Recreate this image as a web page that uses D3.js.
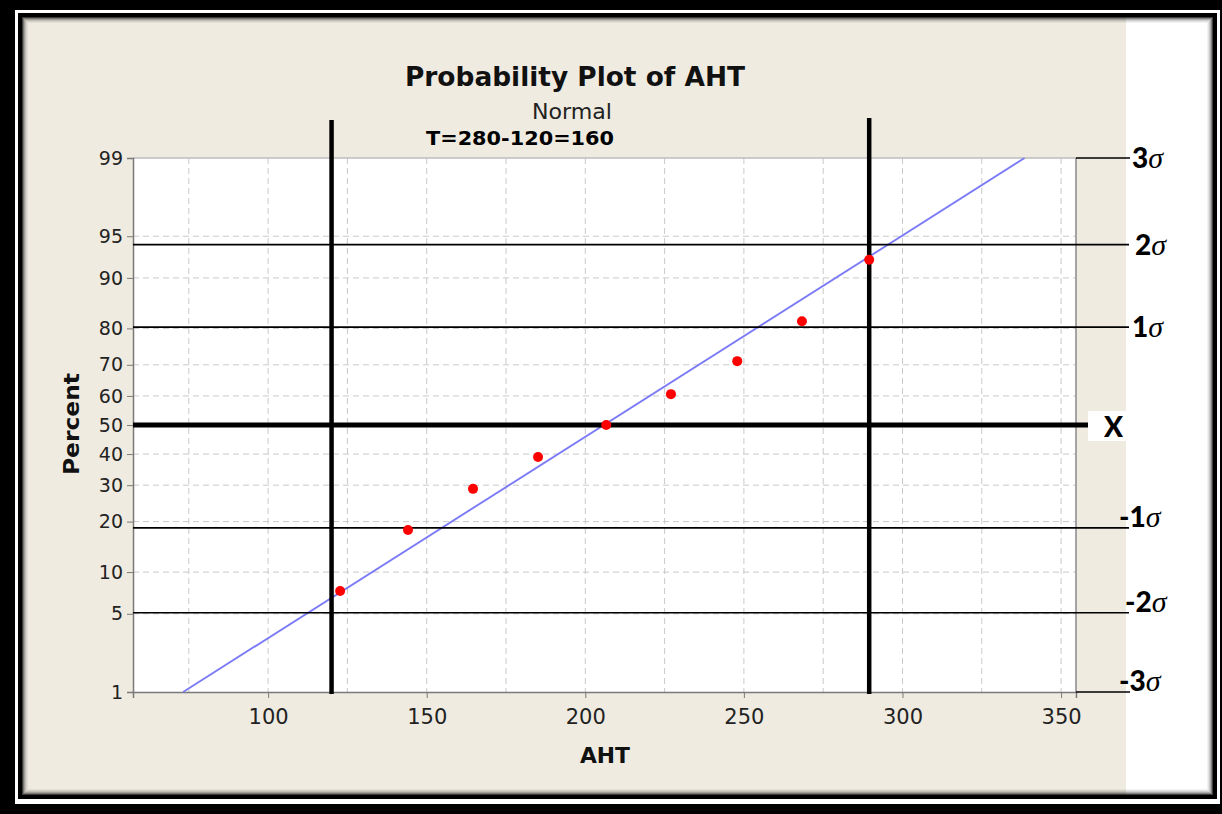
<!DOCTYPE html>
<html>
<head>
<meta charset="utf-8">
<script src="https://cdn.jsdelivr.net/npm/d3@7"></script>
<style>
  html, body { margin: 0; padding: 0; background: #000; }
  svg { display: block; }
</style>
</head>
<body>
<svg id="chart" width="1222" height="814"></svg>
<script>
// ---------------- DATA ----------------
const aht = [122.7, 144.1, 164.6, 185.1, 206.6, 227.0, 247.9, 268.3, 289.5];
const percent = [7.4, 18.0, 28.9, 39.0, 50.0, 60.6, 71.1, 81.7, 92.5];
const fitAht = [73.2, 338.5];
const fitPercent = [1, 99];
const xTicks = [100, 150, 200, 250, 300, 350];
const xGrid = [75, 100, 125, 150, 175, 200, 225, 250, 275, 300, 325, 350];
const yTicks = [1, 5, 10, 20, 30, 40, 50, 60, 70, 80, 90, 95, 99];
const yGrid = [5, 10, 20, 30, 40, 50, 60, 70, 80, 90, 95];
const specLimits = [120, 289.5];
const sigmaNames = ["3", "2", "1", "X", "-1", "-2", "-3"];
const sigmaPercent = [99, 94.2, 80.3, 50, 18.5, 5.1, 1];
const titleText = "Probability Plot of AHT";
const subtitleText = "Normal";
const noteText = "T=280-120=160";
const xLabel = "AHT";
const yLabel = "Percent";

// ---------------- HELPERS ----------------
// inverse standard normal CDF (Acklam)
function probit(p) {
  const a = [-3.969683028665376e+01, 2.209460984245205e+02, -2.759285104469687e+02, 1.383577518672690e+02, -3.066479806614716e+01, 2.506628277459239e+00];
  const b = [-5.447609879822406e+01, 1.615858368580409e+02, -1.556989798598866e+02, 6.680131188771972e+01, -1.328068155288572e+01];
  const c = [-7.784894002430293e-03, -3.223964580411365e-01, -2.400758277161838e+00, -2.549732539343734e+00, 4.374664141464968e+00, 2.938163982698783e+00];
  const d = [7.784695709041462e-03, 3.224671290700398e-01, 2.445134137142996e+00, 3.754408661907416e+00];
  const pl = 0.02425, ph = 1 - pl;
  let q, r;
  if (p < pl) {
    q = Math.sqrt(-2 * Math.log(p));
    return (((((c[0]*q+c[1])*q+c[2])*q+c[3])*q+c[4])*q+c[5]) / ((((d[0]*q+d[1])*q+d[2])*q+d[3])*q+1);
  } else if (p <= ph) {
    q = p - 0.5; r = q * q;
    return (((((a[0]*r+a[1])*r+a[2])*r+a[3])*r+a[4])*r+a[5])*q / (((((b[0]*r+b[1])*r+b[2])*r+b[3])*r+b[4])*r+1);
  } else {
    q = Math.sqrt(-2 * Math.log(1 - p));
    return -(((((c[0]*q+c[1])*q+c[2])*q+c[3])*q+c[4])*q+c[5]) / ((((d[0]*q+d[1])*q+d[2])*q+d[3])*q+1);
  }
}

// ---------------- LAYOUT ----------------
const W = 1222, H = 814;
const plot = { left: 133, right: 1076, top: 158, bottom: 692 };
const svg = d3.select("#chart");

const x = d3.scaleLinear().domain([57.4, 354.7]).range([plot.left, plot.right]);
const zScale = d3.scaleLinear().domain([probit(0.01), probit(0.99)]).range([plot.bottom, plot.top]);
const y = p => zScale(probit(p / 100));

// ---------------- FRAME ----------------
svg.append("rect").attr("x", 0).attr("y", 0).attr("width", W).attr("height", H).attr("fill", "#000");
svg.append("rect").attr("x", 15).attr("y", 10).attr("width", 1205).attr("height", 794).attr("fill", "#fff");
svg.append("rect").attr("x", 18).attr("y", 13).attr("width", 1199).attr("height", 786).attr("fill", "#000");
// content
svg.append("rect").attr("x", 22).attr("y", 17).attr("width", 1191).attr("height", 778).attr("fill", "#fff");
svg.append("rect").attr("x", 22).attr("y", 17).attr("width", 1104).attr("height", 778).attr("fill", "#efebe1");
// inner shadow
const shadowOp = [0.75, 0.5, 0.32, 0.2, 0.11, 0.05];
shadowOp.forEach((o, i) => {
  svg.append("rect")
    .attr("x", 22.5 + i).attr("y", 17.5 + i)
    .attr("width", 1190 - 2 * i).attr("height", 777 - 2 * i)
    .attr("fill", "none").attr("stroke", "#000").attr("stroke-opacity", o).attr("stroke-width", 1);
});

// ---------------- PLOT AREA ----------------
svg.append("rect")
  .attr("x", plot.left).attr("y", plot.top)
  .attr("width", plot.right - plot.left).attr("height", plot.bottom - plot.top)
  .attr("fill", "#fff");

// grid
const g = svg.append("g");
g.selectAll("line.vg").data(xGrid).join("line")
  .attr("x1", d => x(d)).attr("x2", d => x(d))
  .attr("y1", plot.top).attr("y2", plot.bottom)
  .attr("stroke", "#c9c9c9").attr("stroke-width", 1).attr("stroke-dasharray", "6,4");
g.selectAll("line.hg").data(yGrid).join("line")
  .attr("y1", d => y(d)).attr("y2", d => y(d))
  .attr("x1", plot.left).attr("x2", plot.right)
  .attr("stroke", "#c9c9c9").attr("stroke-width", 1).attr("stroke-dasharray", "6,4");

// plot border
svg.append("line").attr("x1", plot.left).attr("x2", plot.right).attr("y1", plot.top).attr("y2", plot.top)
  .attr("stroke", "#bdbdbd").attr("stroke-width", 1.5);
svg.append("line").attr("x1", plot.right).attr("x2", plot.right).attr("y1", plot.top).attr("y2", plot.bottom)
  .attr("stroke", "#8a8a8a").attr("stroke-width", 1.5);

// axes
const xAxis = d3.axisBottom(x).tickValues(xTicks).tickSize(6).tickPadding(6).tickFormat(d3.format("d"));
const xg = svg.append("g").attr("transform", `translate(0,${plot.bottom})`).call(xAxis);
xg.select(".domain").attr("stroke", "#7a7a7a").attr("stroke-width", 1.5);
xg.selectAll(".tick line").attr("stroke", "#7a7a7a");
xg.selectAll(".tick text")
  .attr("font-family", "DejaVu Sans").attr("font-size", 21).attr("fill", "#222").attr("dy", "0.95em");

const yAxis = d3.axisLeft(zScale).tickValues(yTicks.map(p => probit(p / 100))).tickSize(6).tickPadding(4)
  .tickFormat((d, i) => yTicks[i]);
const yg = svg.append("g").attr("transform", `translate(${plot.left},0)`).call(yAxis);
yg.select(".domain").attr("stroke", "#7a7a7a").attr("stroke-width", 1.5);
yg.selectAll(".tick line").attr("stroke", "#7a7a7a");
yg.selectAll(".tick text")
  .attr("font-family", "DejaVu Sans").attr("font-size", 19).attr("fill", "#222");

// fitted line
svg.append("line")
  .attr("x1", x(fitAht[0])).attr("y1", y(fitPercent[0]))
  .attr("x2", x(fitAht[1])).attr("y2", y(fitPercent[1]))
  .attr("stroke", "#7b7bf7").attr("stroke-width", 1.9);

// ---------------- SIGMA LINES ----------------
const sig = svg.append("g");
sigmaNames.forEach((nm, i) => {
  const yy = y(sigmaPercent[i]);
  const isX = nm === "X";
  const outer = nm === "3" || nm === "-3";
  const x1 = outer ? plot.right : plot.left;
  const x2 = isX ? 1088 : (outer ? 1130 : 1129);
  if (isX) {
    sig.append("rect").attr("x", 1088).attr("y", yy - 14).attr("width", 38).attr("height", 30).attr("fill", "#fff");
  }
  sig.append("line").attr("x1", x1).attr("x2", x2).attr("y1", yy).attr("y2", yy)
    .attr("stroke", "#000").attr("stroke-width", isX ? 5 : 1.6);
});

// spec limit vertical lines
svg.selectAll("line.spec").data(specLimits).join("line")
  .attr("x1", d => x(d)).attr("x2", d => x(d))
  .attr("y1", (d, i) => i === 0 ? 120 : 118).attr("y2", plot.bottom + 2)
  .attr("stroke", "#000").attr("stroke-width", 4.5);

// data points
svg.selectAll("circle.pt").data(aht).join("circle")
  .attr("cx", d => x(d)).attr("cy", (d, i) => y(percent[i]))
  .attr("r", 5).attr("fill", "#ff0000");

// sigma labels
const labelX = { "3": 1132, "2": 1135, "1": 1132, "X": 1104, "-1": 1119, "-2": 1125, "-3": 1119 };
sigmaNames.forEach((nm, i) => {
  const yy = y(sigmaPercent[i]);
  const neg = nm.startsWith("-");
  const base = nm === "X" ? yy + 12 : (neg ? yy - 1 : yy + 10);
  const t = svg.append("text").attr("x", labelX[nm]).attr("y", base)
    .attr("font-family", "Lato, 'Liberation Sans', sans-serif").attr("font-weight", "900")
    .attr("font-size", 28).attr("fill", "#000");
  t.append("tspan").text(nm);
  if (nm !== "X") {
    t.append("tspan").text("σ").attr("font-family", "'Liberation Serif', serif")
      .attr("font-style", "italic").attr("font-weight", "normal").attr("font-size", 30);
  }
});

// ---------------- TEXTS ----------------
svg.append("text").attr("x", 575).attr("y", 86).attr("text-anchor", "middle")
  .attr("font-family", "DejaVu Sans").attr("font-weight", "bold").attr("font-size", 26)
  .attr("textLength", 340).attr("lengthAdjust", "spacingAndGlyphs").attr("fill", "#111")
  .text(titleText);
svg.append("text").attr("x", 572).attr("y", 119).attr("text-anchor", "middle")
  .attr("font-family", "DejaVu Sans").attr("font-size", 21)
  .attr("textLength", 80).attr("lengthAdjust", "spacingAndGlyphs").attr("fill", "#222")
  .text(subtitleText);
svg.append("text").attr("x", 426).attr("y", 145)
  .attr("font-family", "DejaVu Sans").attr("font-weight", "bold").attr("font-size", 20)
  .attr("textLength", 188).attr("lengthAdjust", "spacingAndGlyphs").attr("fill", "#000")
  .text(noteText);
svg.append("text").attr("x", 605).attr("y", 763).attr("text-anchor", "middle")
  .attr("font-family", "DejaVu Sans").attr("font-weight", "bold").attr("font-size", 22)
  .attr("textLength", 50).attr("lengthAdjust", "spacingAndGlyphs").attr("fill", "#111")
  .text(xLabel);
svg.append("text").attr("transform", "translate(79,424) rotate(-90)").attr("text-anchor", "middle")
  .attr("font-family", "DejaVu Sans").attr("font-weight", "bold").attr("font-size", 22)
  .attr("textLength", 102).attr("lengthAdjust", "spacingAndGlyphs").attr("fill", "#111")
  .text(yLabel);
</script>
</body>
</html>
